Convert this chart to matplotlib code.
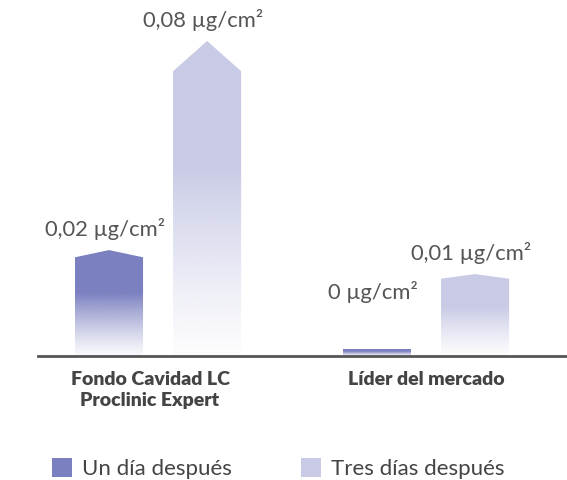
import numpy as np
import matplotlib
matplotlib.use("Agg")
import matplotlib.pyplot as plt
from matplotlib.patches import Polygon, Patch

plt.rcParams['font.family'] = ['Lato', 'DejaVu Sans']

# data
groups = ['Fondo Cavidad LC\nProclinic Expert', 'Líder del mercado']
series = ['Un día después', 'Tres días después']
# bar heights (peak), in µg/cm²
un_dia = [0.0269, 0.0018]
tres_dias = [0.080, 0.0208]
un_dia_labels = ['0,02 µg/cm²', '0 µg/cm²']
tres_dias_labels = ['0,08 µg/cm²', '0,01 µg/cm²']

colors = ['#7b80c0', '#c9cbe6']
text_color = '#555555'

fig = plt.figure(figsize=(5.67, 4.80), dpi=100)
ax = fig.add_axes([38 / 567, 124 / 480, 529 / 567, 356 / 480])

width = 0.254
offset = 0.183


def grad_bar(x, h, color):
    # pentagon bar with pointed top, filled with a fading gradient
    tip = max(0.0, (h - 0.0102) * 0.11)
    shoulder = h - tip
    x0, x1 = x - width / 2, x + width / 2
    poly = Polygon([(x0, 0), (x0, shoulder), (x, h), (x1, shoulder), (x1, 0)],
                   closed=True, facecolor='none', edgecolor='none')
    ax.add_patch(poly)
    t = np.linspace(0, 1, 256)  # 0 bottom -> 1 top
    alpha = 0.04 + 0.96 * np.clip(t / 0.6, 0, 1) ** 1.2
    rgb = matplotlib.colors.to_rgb(color)
    img = np.zeros((256, 1, 4))
    img[:, 0, :3] = rgb
    img[:, 0, 3] = alpha
    im = ax.imshow(img, extent=(x0, x1, 0, h), origin='lower',
                   aspect='auto', interpolation='bilinear', zorder=2)
    im.set_clip_path(poly)


for i in range(len(groups)):
    for vals, labs, c, sign in [(un_dia, un_dia_labels, colors[0], -1),
                                (tres_dias, tres_dias_labels, colors[1], 1)]:
        x = i + sign * offset
        h = vals[i]
        grad_bar(x, h, c)
        ax.annotate(labs[i], (x, max(h, 0.011)), xytext=(-3, 7),
                    textcoords='offset points', ha='center', va='bottom',
                    fontsize=15.8, color=text_color, annotation_clip=False)

ax.set_xlim(-0.448, 1.526)
ax.set_ylim(0, 0.0904)

for s in ['top', 'right', 'left']:
    ax.spines[s].set_visible(False)
ax.spines['bottom'].set_color('#555555')
ax.spines['bottom'].set_linewidth(2)
ax.set_yticks([])
ax.set_xticks([-0.03, 1])
ax.set_xticklabels(groups, fontsize=14, fontweight='heavy', color='#444444',
                   linespacing=1.3)
ax.tick_params(axis='x', length=0, pad=11)

handles = [Patch(facecolor=colors[0], edgecolor='none'),
           Patch(facecolor=colors[1], edgecolor='none')]
fig.legend(handles, series, loc='lower left', bbox_to_anchor=(0.057, -0.04),
           ncol=2, frameon=False, fontsize=16, handlelength=0.9,
           handleheight=0.9, handletextpad=0.45, columnspacing=3.1,
           labelcolor='#444444')

fig.savefig('out.png', dpi=100, facecolor='white')
